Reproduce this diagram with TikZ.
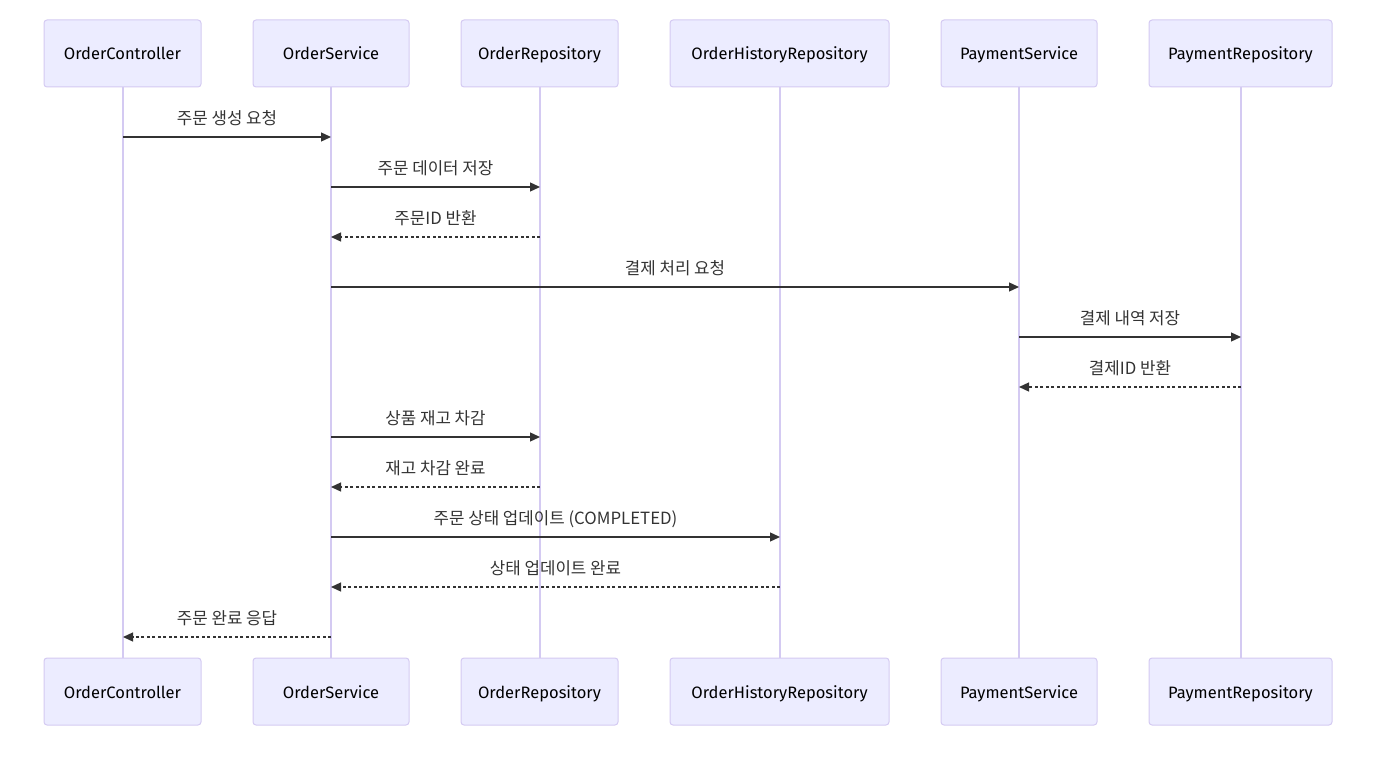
\documentclass[tikz,border=0pt]{standalone}
\usepackage{fontspec}
\setmainfont{Fira Sans}
\newfontfamily\kofont{Noto Sans CJK KR}
\usetikzlibrary{arrows.meta}
\definecolor{actfill}{HTML}{ECECFF}
\definecolor{actline}{HTML}{D4CAF2}
\definecolor{msgcol}{HTML}{333333}
\tikzset{
  actor/.style={draw=actline, fill=actfill, line width=1pt, rounded corners=3pt, inner sep=0pt,
    font=\fontsize{16.5}{19}\selectfont, text=black, text height=13pt, text depth=0pt},
  life/.style={draw=actline, line width=1.5pt},
  msg/.style={draw=msgcol, line width=1.3pt, -{Triangle[length=10pt,width=9pt]}},
  reply/.style={msg, dash pattern=on 3pt off 2.5pt},
  lbl/.style={font=\kofont\fontsize{16.8}{19}\selectfont, text=msgcol, inner sep=0pt, anchor=base}
}
\begin{document}
\begin{tikzpicture}[x=1pt,y=-1pt]
\useasboundingbox (0,0) rectangle (1374,757);
\def\lifeline#1#2#3{%
  \node[actor, minimum width=#3pt, minimum height=67pt] (#1t) at (#2,53.5) {#1};
  \node[actor, minimum width=#3pt, minimum height=67pt] (#1b) at (#2,691.5) {#1};
}
% lifelines (behind boxes)
\draw[life] (123,87) -- (123,658);
\draw[life] (331,87) -- (331,658);
\draw[life] (540,87) -- (540,658);
\draw[life] (780,87) -- (780,658);
\draw[life] (1019,87) -- (1019,658);
\draw[life] (1241,87) -- (1241,658);
\lifeline{OrderController}{122.5}{157}
\lifeline{OrderService}{331}{156}
\lifeline{OrderRepository}{539.5}{157}
\lifeline{OrderHistoryRepository}{779.5}{219}
\lifeline{PaymentService}{1019}{156}
\lifeline{PaymentRepository}{1240.5}{183}
% messages
\coordinate (a1) at (123,137); \coordinate (b1) at (331,137);
\draw[msg] (a1) -- (b1) node[lbl, midway, yshift=12.5pt] {주문 생성 요청};
\coordinate (a2) at (331,187); \coordinate (b2) at (540,187);
\draw[msg] (a2) -- (b2) node[lbl, midway, yshift=12.5pt] {주문 데이터 저장};
\coordinate (a3) at (540,237); \coordinate (b3) at (331,237);
\draw[reply] (a3) -- (b3) node[lbl, midway, yshift=12.5pt] {주문ID 반환};
\coordinate (a4) at (331,287); \coordinate (b4) at (1019,287);
\draw[msg] (a4) -- (b4) node[lbl, midway, yshift=12.5pt] {결제 처리 요청};
\coordinate (a5) at (1019,337); \coordinate (b5) at (1241,337);
\draw[msg] (a5) -- (b5) node[lbl, midway, yshift=12.5pt] {결제 내역 저장};
\coordinate (a6) at (1241,387); \coordinate (b6) at (1019,387);
\draw[reply] (a6) -- (b6) node[lbl, midway, yshift=12.5pt] {결제ID 반환};
\coordinate (a7) at (331,437); \coordinate (b7) at (540,437);
\draw[msg] (a7) -- (b7) node[lbl, midway, yshift=12.5pt] {상품 재고 차감};
\coordinate (a8) at (540,487); \coordinate (b8) at (331,487);
\draw[reply] (a8) -- (b8) node[lbl, midway, yshift=12.5pt] {재고 차감 완료};
\coordinate (a9) at (331,537); \coordinate (b9) at (780,537);
\draw[msg] (a9) -- (b9) node[lbl, midway, yshift=12.5pt] {주문 상태 업데이트 (COMPLETED)};
\coordinate (a10) at (780,587); \coordinate (b10) at (331,587);
\draw[reply] (a10) -- (b10) node[lbl, midway, yshift=12.5pt] {상태 업데이트 완료};
\coordinate (a11) at (331,637); \coordinate (b11) at (123,637);
\draw[reply] (a11) -- (b11) node[lbl, midway, yshift=12.5pt] {주문 완료 응답};
\end{tikzpicture}
\end{document}
